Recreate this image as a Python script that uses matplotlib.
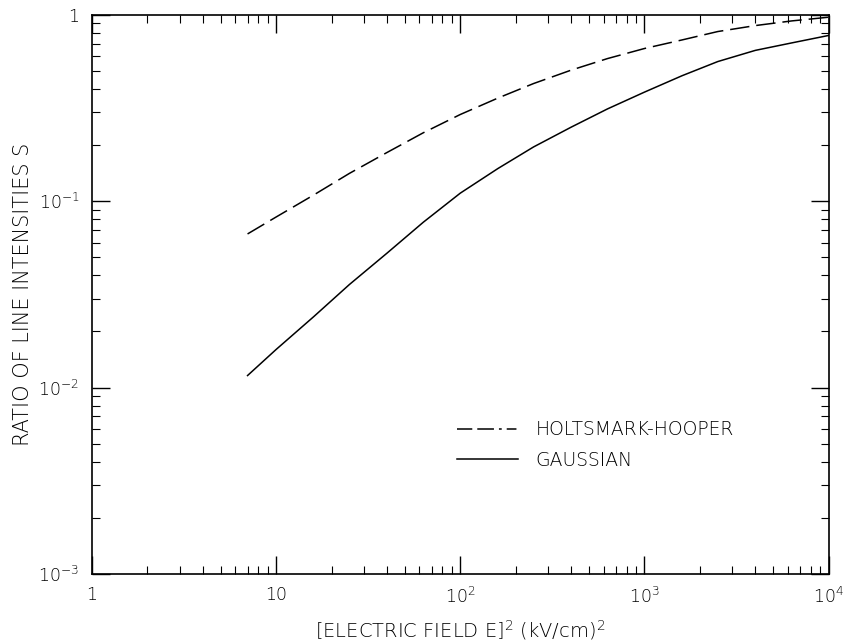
import matplotlib
matplotlib.use("Agg")
import matplotlib.pyplot as plt
from matplotlib.lines import Line2D
from matplotlib.ticker import FixedLocator, FixedFormatter, LogLocator, NullFormatter

plt.rcParams['font.family'] = ['DejaVu Sans']
plt.rcParams['mathtext.default'] = 'regular'
plt.rcParams['lines.scale_dashes'] = False

# Data
field_sq = [7, 10, 16, 25, 40, 63, 100, 160, 250, 400, 630, 1000, 1600, 2500, 4000, 6300, 10000]
holtsmark = [0.0667, 0.0822, 0.1079, 0.1409, 0.1824, 0.2328, 0.2917, 0.3573, 0.4276, 0.5047,
             0.5821, 0.6592, 0.7328, 0.8128, 0.8750, 0.9268, 0.9705]
gaussian = [0.0116, 0.0160, 0.0240, 0.0357, 0.0526, 0.0771, 0.1104, 0.1496, 0.1954, 0.2495,
            0.3126, 0.3846, 0.4710, 0.5610, 0.6442, 0.7063, 0.7745]

x_ticks = [1, 10, 100, 1000, 10000]
x_labels = ['1', '10', '$10^2$', '$10^3$', '$10^4$']
y_ticks = [1e-3, 1e-2, 1e-1, 1]
y_labels = ['$10^{-3}$', '$10^{-2}$', '$10^{-1}$', '1']

fig = plt.figure(figsize=(8.43, 6.42), dpi=100)
ax = fig.add_axes([0.109, 0.106, 0.874, 0.871])
ax.set_xscale('log')
ax.set_yscale('log')

ink = '#000000'
ax.plot(field_sq, holtsmark, color=ink, lw=1.1, dashes=(14, 5))
ax.plot(field_sq, gaussian, color=ink, lw=1.1)

ax.set_xlim(1, 1e4)
ax.set_ylim(1e-3, 1)

ax.xaxis.set_major_locator(FixedLocator(x_ticks))
ax.xaxis.set_major_formatter(FixedFormatter(x_labels))
ax.yaxis.set_major_locator(FixedLocator(y_ticks))
ax.yaxis.set_major_formatter(FixedFormatter(y_labels))
ax.xaxis.set_minor_locator(LogLocator(base=10, subs=range(2, 10)))
ax.yaxis.set_minor_locator(LogLocator(base=10, subs=range(2, 10)))
ax.xaxis.set_minor_formatter(NullFormatter())
ax.yaxis.set_minor_formatter(NullFormatter())

ax.tick_params(which='both', direction='in', top=True, right=True, color=ink,
               labelsize=12.5, labelcolor=ink)
ax.tick_params(which='major', length=13, width=1.0, pad=9)
ax.tick_params(which='minor', length=6, width=0.8)
for lab in ax.get_xticklabels() + ax.get_yticklabels():
    lab.set_fontweight('light')
for s in ax.spines.values():
    s.set_linewidth(1.2)
    s.set_color(ink)

ax.set_xlabel('[ELECTRIC FIELD E]$^2$ (kV/cm)$^2$', fontsize=14, color=ink, labelpad=8,
              fontweight='light')
ax.set_ylabel('RATIO OF LINE INTENSITIES S', fontsize=15, color=ink,
              fontweight='light')
ax.yaxis.set_label_coords(-0.08, 0.5)

h1 = Line2D([], [], color=ink, lw=1.1, dashes=(11, 3.6, 12, 3.6, 2, 3.6, 7, 3.6))
h2 = Line2D([], [], color=ink, lw=1.1)
leg = ax.legend([h1, h2], ['HOLTSMARK-HOOPER', 'GAUSSIAN'], frameon=False,
                loc='upper left', bbox_to_anchor=(0.472, 0.305), handlelength=3.3,
                handletextpad=0.9, labelspacing=0.6, fontsize=13.5, labelcolor=ink)
for t in leg.get_texts():
    t.set_fontweight('light')

fig.savefig('out.png', dpi=100)
